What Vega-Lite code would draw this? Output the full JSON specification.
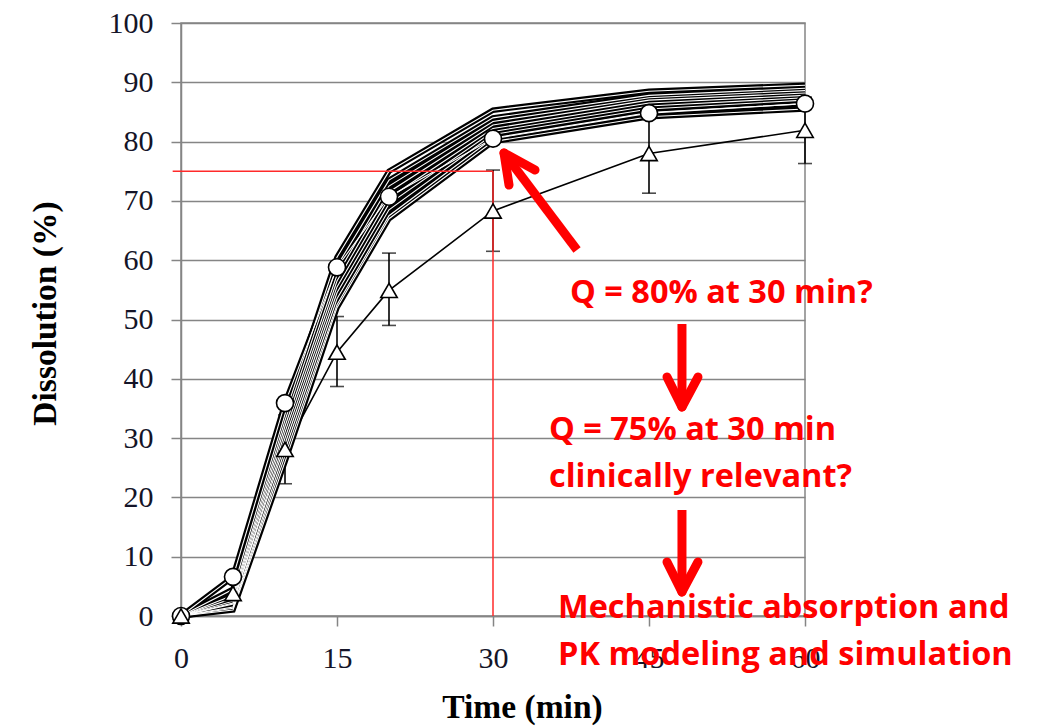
{
  "$schema": "https://vega.github.io/schema/vega-lite/v6.json",
  "width": 624,
  "height": 593,
  "autosize": {"type": "none"},
  "padding": {"left": 181, "top": 23, "right": 233, "bottom": 112},
  "background": "white",
  "config": {
    "view": {"stroke": "#858585", "strokeWidth": 1.5}
  },
  "datasets": {
    "batches": [
      {"s": "A", "t": 0, "v": 0}, {"s": "A", "t": 5, "v": 6.6}, {"s": "A", "t": 10, "v": 35.9}, {"s": "A", "t": 15, "v": 58.8}, {"s": "A", "t": 20, "v": 70.7}, {"s": "A", "t": 30, "v": 80.5}, {"s": "A", "t": 45, "v": 84.8}, {"s": "A", "t": 60, "v": 86.4},
      {"s": "L1", "t": 0, "v": 0}, {"s": "L1", "t": 5, "v": 4.5}, {"s": "L1", "t": 10, "v": 34}, {"s": "L1", "t": 15, "v": 60.5}, {"s": "L1", "t": 20, "v": 75}, {"s": "L1", "t": 30, "v": 85.3}, {"s": "L1", "t": 45, "v": 88.5}, {"s": "L1", "t": 60, "v": 89.5},
      {"s": "L2", "t": 0, "v": 0}, {"s": "L2", "t": 5, "v": 3.5}, {"s": "L2", "t": 10, "v": 33}, {"s": "L2", "t": 15, "v": 59}, {"s": "L2", "t": 20, "v": 73.5}, {"s": "L2", "t": 30, "v": 84}, {"s": "L2", "t": 45, "v": 87.8}, {"s": "L2", "t": 60, "v": 89},
      {"s": "L3", "t": 0, "v": 0}, {"s": "L3", "t": 5, "v": 3}, {"s": "L3", "t": 10, "v": 32}, {"s": "L3", "t": 15, "v": 57.5}, {"s": "L3", "t": 20, "v": 72.5}, {"s": "L3", "t": 30, "v": 83.4}, {"s": "L3", "t": 45, "v": 87.4}, {"s": "L3", "t": 60, "v": 88.6},
      {"s": "L4", "t": 0, "v": 0}, {"s": "L4", "t": 5, "v": 2.5}, {"s": "L4", "t": 10, "v": 31}, {"s": "L4", "t": 15, "v": 56.5}, {"s": "L4", "t": 20, "v": 71.5}, {"s": "L4", "t": 30, "v": 82.8}, {"s": "L4", "t": 45, "v": 87}, {"s": "L4", "t": 60, "v": 88.2},
      {"s": "L5", "t": 0, "v": 0}, {"s": "L5", "t": 5, "v": 2}, {"s": "L5", "t": 10, "v": 30}, {"s": "L5", "t": 15, "v": 55.5}, {"s": "L5", "t": 20, "v": 70.5}, {"s": "L5", "t": 30, "v": 82.2}, {"s": "L5", "t": 45, "v": 86.5}, {"s": "L5", "t": 60, "v": 87.8},
      {"s": "L6", "t": 0, "v": 0}, {"s": "L6", "t": 5, "v": 2.2}, {"s": "L6", "t": 10, "v": 29}, {"s": "L6", "t": 15, "v": 54.5}, {"s": "L6", "t": 20, "v": 69.5}, {"s": "L6", "t": 30, "v": 81.7}, {"s": "L6", "t": 45, "v": 86}, {"s": "L6", "t": 60, "v": 87.4},
      {"s": "L7", "t": 0, "v": 0}, {"s": "L7", "t": 5, "v": 1.5}, {"s": "L7", "t": 10, "v": 28}, {"s": "L7", "t": 15, "v": 53.5}, {"s": "L7", "t": 20, "v": 68.5}, {"s": "L7", "t": 30, "v": 81.2}, {"s": "L7", "t": 45, "v": 85.5}, {"s": "L7", "t": 60, "v": 87},
      {"s": "L8", "t": 0, "v": 0}, {"s": "L8", "t": 5, "v": 1.3}, {"s": "L8", "t": 10, "v": 27}, {"s": "L8", "t": 15, "v": 52.5}, {"s": "L8", "t": 20, "v": 67.5}, {"s": "L8", "t": 30, "v": 80.6}, {"s": "L8", "t": 45, "v": 84.9}, {"s": "L8", "t": 60, "v": 86.4},
      {"s": "L9", "t": 0, "v": 0}, {"s": "L9", "t": 5, "v": 1}, {"s": "L9", "t": 10, "v": 26}, {"s": "L9", "t": 15, "v": 52}, {"s": "L9", "t": 20, "v": 67}, {"s": "L9", "t": 30, "v": 80}, {"s": "L9", "t": 45, "v": 84.2}, {"s": "L9", "t": 60, "v": 85.5}
    ],
    "reference": [
      {"t": 0, "v": 0, "lo": 0, "hi": 0},
      {"t": 5, "v": 3.8, "lo": 3.8, "hi": 3.8},
      {"t": 10, "v": 28.1, "lo": 22.3, "hi": 33.9},
      {"t": 15, "v": 44.5, "lo": 38.7, "hi": 50.5},
      {"t": 20, "v": 54.9, "lo": 49, "hi": 61.2},
      {"t": 30, "v": 68.3, "lo": 61.5, "hi": 75.2},
      {"t": 45, "v": 78, "lo": 71.3, "hi": 84.7},
      {"t": 60, "v": 81.9, "lo": 76.3, "hi": 87.5}
    ],
    "spec_lines": [
      {"t": -0.8, "v": 75, "t2": 30, "v2": 75},
      {"t": 30, "v": 75, "t2": 30, "v2": 0}
    ],
    "arrow_shafts": [
      {"t": 38.08, "v": 61.72, "t2": 31.4, "v2": 77.3},
      {"t": 48.17, "v": 49.24, "t2": 48.17, "v2": 36.0},
      {"t": 48.17, "v": 17.88, "t2": 48.17, "v2": 4.8}
    ],
    "arrow_heads": [
      {"t": 31.06, "v": 78.08, "t2": 34.04, "v2": 75.21},
      {"t": 31.06, "v": 78.08, "t2": 31.54, "v2": 72.68},
      {"t": 48.17, "v": 35.24, "t2": 46.73, "v2": 40.3},
      {"t": 48.17, "v": 35.24, "t2": 49.71, "v2": 40.3},
      {"t": 48.17, "v": 4.05, "t2": 46.73, "v2": 9.11},
      {"t": 48.17, "v": 4.05, "t2": 49.71, "v2": 9.11}
    ],
    "notes": [
      {"t": 37.4, "v": 52.78, "label": "Q = 80% at 30 min?"},
      {"t": 35.38, "v": 29.68, "label": "Q = 75% at 30 min"},
      {"t": 35.38, "v": 21.75, "label": "clinically relevant?"},
      {"t": 36.25, "v": -0.34, "label": "Mechanistic absorption and"},
      {"t": 36.25, "v": -8.26, "label": "PK modeling and simulation"}
    ]
  },
  "encoding": {
    "x": {
      "field": "t",
      "type": "quantitative",
      "scale": {"domain": [0, 60], "nice": false, "zero": false},
      "axis": {
        "values": [0, 15, 30, 45, 60],
        "title": "Time (min)",
        "grid": false,
        "domainColor": "#858585",
        "domainWidth": 1.5,
        "tickColor": "#858585",
        "tickWidth": 1.5,
        "tickSize": 10,
        "labelFont": "Liberation Serif",
        "labelFontSize": 30,
        "labelColor": "#141428",
        "labelPadding": 17,
        "labelFlush": false,
        "labelOverlap": false,
        "titleFont": "Liberation Serif",
        "titleFontSize": 33.5,
        "titleFontWeight": "bold",
        "titleColor": "black",
        "titleX": 341,
        "titleY": 101,
        "titleAlign": "center",
        "titleBaseline": "alphabetic"
      }
    },
    "y": {
      "field": "v",
      "type": "quantitative",
      "scale": {"domain": [0, 100], "nice": false, "zero": false},
      "axis": {
        "values": [0, 10, 20, 30, 40, 50, 60, 70, 80, 90, 100],
        "title": "Dissolution (%)",
        "grid": true,
        "gridColor": "#858585",
        "gridWidth": 1.5,
        "domainColor": "#858585",
        "domainWidth": 1.5,
        "tickColor": "#858585",
        "tickWidth": 1.5,
        "tickSize": 10,
        "labelFont": "Liberation Serif",
        "labelFontSize": 30,
        "labelColor": "#141428",
        "labelPadding": 18,
        "labelFlush": false,
        "labelOverlap": false,
        "titleFont": "Liberation Serif",
        "titleFontSize": 33.5,
        "titleFontWeight": "bold",
        "titleColor": "black",
        "titleX": -126,
        "titleY": 290,
        "titleAngle": -90,
        "titleAlign": "center",
        "titleBaseline": "alphabetic"
      }
    }
  },
  "layer": [
    {
      "data": {"name": "reference"},
      "mark": {"type": "line", "color": "black", "strokeWidth": 1.6}
    },
    {
      "data": {"name": "reference"},
      "transform": [{"filter": "datum.t >= 10"}],
      "mark": {
        "type": "errorbar",
        "ticks": {"size": 14, "thickness": 1.6, "color": "black"},
        "rule": {"strokeWidth": 1.6, "color": "black"}
      },
      "encoding": {
        "y": {"field": "lo", "type": "quantitative"},
        "y2": {"field": "hi"}
      }
    },
    {
      "data": {"name": "batches"},
      "mark": {"type": "line", "color": "black", "strokeWidth": 5.5},
      "encoding": {"detail": {"field": "s"}}
    },
    {
      "data": {"name": "batches"},
      "mark": {"type": "line", "color": "white", "strokeWidth": 1.1},
      "encoding": {"detail": {"field": "s"}}
    },
    {
      "data": {"name": "spec_lines"},
      "mark": {"type": "rule", "color": "#ff2a2a", "strokeWidth": 1.5},
      "encoding": {"x2": {"field": "t2"}, "y2": {"field": "v2"}}
    },
    {
      "data": {"name": "batches"},
      "transform": [{"filter": "datum.s === 'A'"}],
      "mark": {"type": "point", "shape": "circle", "filled": true, "fill": "white", "stroke": "black", "strokeWidth": 1.6, "size": 290, "opacity": 1}
    },
    {
      "data": {"name": "reference"},
      "mark": {"type": "point", "shape": "triangle-up", "filled": true, "fill": "white", "stroke": "black", "strokeWidth": 1.6, "size": 270, "opacity": 1}
    },
    {
      "data": {"name": "arrow_shafts"},
      "mark": {"type": "rule", "color": "#ff0000", "strokeWidth": 9},
      "encoding": {"x2": {"field": "t2"}, "y2": {"field": "v2"}}
    },
    {
      "data": {"name": "arrow_heads"},
      "mark": {"type": "rule", "color": "#ff0000", "strokeWidth": 9, "strokeCap": "round"},
      "encoding": {"x2": {"field": "t2"}, "y2": {"field": "v2"}}
    },
    {
      "data": {"name": "notes"},
      "mark": {"type": "text", "align": "left", "baseline": "alphabetic", "font": "Open Sans", "fontWeight": "bold", "fontSize": 32.5, "color": "#ff0000"},
      "encoding": {"text": {"field": "label"}}
    }
  ]
}
